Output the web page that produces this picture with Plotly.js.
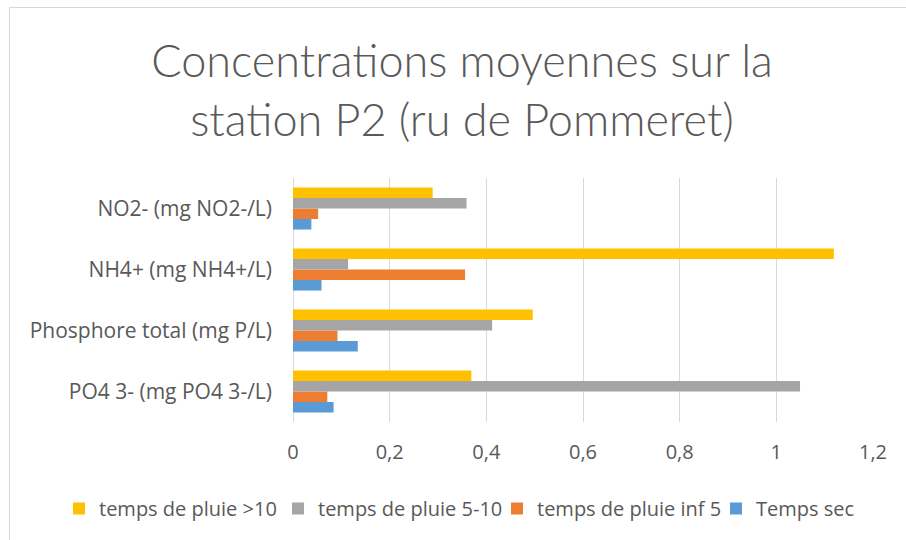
<!DOCTYPE html>
<html>
<head>
<meta charset="utf-8">
<script src="https://cdn.plot.ly/plotly-3.0.1.min.js"></script>
<style>
  html, body { margin: 0; padding: 0; background: #fff; }
  #wrap { position: relative; width: 906px; height: 540px; }
  #chart { width: 906px; height: 540px; }
  #frame { position: absolute; left: 9px; top: 7px; width: 900px; height: 540px;
           border-left: 1px solid #d9d9d9; border-top: 1px solid #d9d9d9; pointer-events: none; }
</style>
</head>
<body>
<div id="wrap"><div id="chart"></div><div id="frame"></div></div>
<script>
const categories = ["PO4 3- (mg PO4 3-/L)", "Phosphore total (mg P/L)", "NH4+ (mg NH4+/L)", "NO2- (mg NO2-/L)"];
const seriesNames = ["Temps sec", "temps de pluie inf 5", "temps de pluie 5-10", "temps de pluie >10"];
const tempsSec   = [0.084, 0.134, 0.059, 0.038];
const pluieInf5  = [0.071, 0.092, 0.356, 0.052];
const pluie5a10  = [1.049, 0.412, 0.114, 0.359];
const pluieSup10 = [0.369, 0.496, 1.119, 0.289];
const xTicks = [0, 0.2, 0.4, 0.6, 0.8, 1, 1.2];

const seriesValues = [tempsSec, pluieInf5, pluie5a10, pluieSup10];
const colors = ["#5B9BD5", "#ED7D31", "#A5A5A5", "#FFC000"];

const traces = seriesValues.map((vals, i) => ({
  type: "bar",
  orientation: "h",
  name: seriesNames[i],
  y: categories,
  x: vals,
  marker: { color: colors[i], line: { width: 0 } },
  hoverinfo: "x+name"
}));

const labelFont = "'Open Sans', sans-serif";
const titleFont = "Lato, 'Open Sans', sans-serif";

const W = 906, H = 540;
const M = { l: 293, r: 33, t: 178, b: 118 };
const plotW = W - M.l - M.r, plotH = H - M.t - M.b;

const layout = {
  width: W, height: H,
  paper_bgcolor: "#fff", plot_bgcolor: "#fff",
  separators: ", ",
  margin: { l: M.l, r: M.r, t: M.t, b: M.b, autoexpand: false },
  title: {
    text: "Concentrations moyennes sur la<br>station P2 (ru de Pommeret)",
    font: { family: titleFont, size: 45, color: "#595959", weight: 300 },
    x: 0.51, xref: "container", xanchor: "center",
    y: 0.857, yref: "container", yanchor: "bottom"
  },
  barmode: "group",
  bargap: 0.31,
  bargroupgap: 0,
  xaxis: {
    range: [0, 1.2],
    tickvals: xTicks,
    showgrid: true, gridcolor: "#d9d9d9", gridwidth: 1,
    zeroline: true, zerolinecolor: "#d9d9d9", zerolinewidth: 1,
    showline: false,
    ticks: "",
    ticklabelstandoff: 16,
    tickfont: { family: labelFont, size: 20, color: "#595959" },
    fixedrange: true
  },
  yaxis: {
    type: "category",
    categoryorder: "array", categoryarray: categories,
    showgrid: false, zeroline: false, showline: false,
    ticks: "",
    ticklabelstandoff: 20,
    tickfont: { family: labelFont, size: 21, color: "#595959" },
    fixedrange: true
  },
  legend: {
    orientation: "h",
    traceorder: "reversed",
    xref: "paper", yref: "paper",
    x: (59 - M.l) / plotW, xanchor: "left",
    y: ((H - M.b) - 508.5) / plotH, yanchor: "middle",
    font: { family: labelFont, size: 20, color: "#595959" },
    itemwidth: 30,
    entrywidth: 174,
    itemclick: false, itemdoubleclick: false
  },
  showlegend: true
};

Plotly.newPlot("chart", traces, layout, { displayModeBar: false, staticPlot: true });
</script>
</body>
</html>
